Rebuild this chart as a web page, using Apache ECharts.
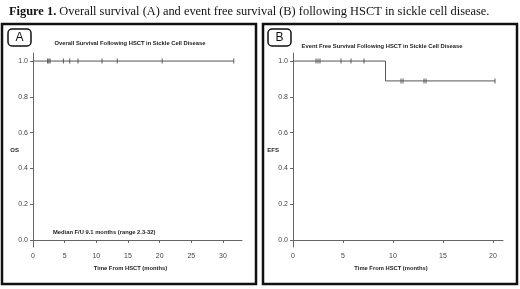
<!DOCTYPE html>
<html>
<head>
<meta charset="utf-8">
<script src="https://cdn.jsdelivr.net/npm/echarts@6/dist/echarts.min.js"></script>
<style>
  html, body { margin: 0; padding: 0; background: #fff; }
  #chart { width: 520px; height: 289px; }
</style>
</head>
<body>
<div id="chart"></div>
<script>
// overall survival: no events, flat at 1.0
const osTimes = [0, 31.7];
const osSurv = [1, 1];
const osCensorTimes = [2.3, 2.5, 2.7, 4.8, 5.8, 7.1, 10.9, 13.3, 20.4, 31.7];
const osCensorSurv = [1, 1, 1, 1, 1, 1, 1, 1, 1, 1];

// event free survival: one event around 9 months
const efsTimes = [0, 9.25, 20.2];
const efsSurv = [1, 0.889, 0.889];
const efsCensorTimes = [2.3, 2.5, 2.7, 4.8, 5.8, 7.1, 10.8, 11.0, 13.1, 13.3, 20.2];
const efsCensorSurv = [1, 1, 1, 1, 1, 1, 0.889, 0.889, 0.889, 0.889, 0.889];

const yTicks = [0, 0.2, 0.4, 0.6, 0.8, 1.0];

const axisGray = '#666';
const lineGray = '#555';
const smallFont = 'Liberation Sans, Arial, sans-serif';

const zip = (xs, ys) => xs.map((x, i) => [x, ys[i]]);

function makeX(gridIndex, max) {
  return {
    type: 'value', gridIndex: gridIndex, min: 0, max: max, interval: 5,
    name: 'Time From HSCT (months)', nameLocation: 'middle', nameGap: 17,
    nameTextStyle: { fontSize: 5.8, fontWeight: 'bold', color: '#222', fontFamily: smallFont,
      padding: [0, 14, 0, 0] },
    axisLine: { lineStyle: { color: axisGray, width: 1 } },
    axisTick: { length: 3, lineStyle: { color: axisGray } },
    axisLabel: { fontSize: 7, color: '#444', margin: 6, fontFamily: smallFont, showMaxLabel: false },
    splitLine: { show: false }
  };
}

function makeY(gridIndex, name) {
  return {
    type: 'value', gridIndex: gridIndex, min: -0.039, max: 1.045,
    name: name, nameLocation: 'middle', nameRotate: 0, nameGap: 14, nameMoveOverlap: false,
    nameTextStyle: { fontSize: 6, fontWeight: 'bold', color: '#222', fontFamily: smallFont },
    axisLine: { show: true, lineStyle: { color: axisGray, width: 1 } },
    axisTick: { show: true, length: 3, customValues: yTicks, lineStyle: { color: axisGray } },
    axisLabel: {
      fontSize: 7, color: '#444', margin: 5, fontFamily: smallFont,
      customValues: yTicks, formatter: v => v.toFixed(1)
    },
    splitLine: { show: false }
  };
}

function kmLine(xi, data) {
  return {
    type: 'line', xAxisIndex: xi, yAxisIndex: xi, step: 'end', data: data,
    symbol: 'none', lineStyle: { color: lineGray, width: 1 }, silent: true
  };
}

function censor(xi, data) {
  return {
    type: 'scatter', xAxisIndex: xi, yAxisIndex: xi, data: data,
    symbol: 'rect', symbolSize: [1, 5], itemStyle: { color: '#333' }, silent: true
  };
}

const panelTitle = { fontSize: 5.8, fontWeight: 'bold', color: '#222', fontFamily: smallFont };

const chart = echarts.init(document.getElementById('chart'));
chart.setOption({
  animation: false,
  backgroundColor: '#fff',
  title: [
    {
      text: '{b|Figure 1.} Overall survival (A) and event free survival (B) following HSCT in sickle cell disease.',
      left: 4, top: 1,
      textStyle: {
        fontFamily: 'Liberation Serif, Times New Roman, serif', fontSize: 12.4,
        fontWeight: 'normal', color: '#111',
        rich: { b: { fontFamily: 'Liberation Serif, Times New Roman, serif', fontSize: 12.4, fontWeight: 'bold', color: '#111' } }
      }
    },
    {
      text: 'Overall Survival Following HSCT in Sickle Cell Disease',
      left: 130, top: 40, textAlign: 'center', padding: 0, textStyle: panelTitle
    },
    {
      text: 'Event Free Survival Following HSCT in Sickle Cell Disease',
      left: 382, top: 43, textAlign: 'center', padding: 0, textStyle: panelTitle
    },
    {
      text: 'Median F/U 9.1 months (range 2.3-32)',
      left: 53, top: 229, padding: 0, textStyle: panelTitle
    }
  ],
  graphic: [
    { type: 'rect', shape: { x: 2, y: 24, width: 254, height: 260 },
      style: { fill: 'none', stroke: '#111', lineWidth: 2.5 } },
    { type: 'rect', shape: { x: 263, y: 24, width: 254, height: 260 },
      style: { fill: 'none', stroke: '#111', lineWidth: 2.5 } },
    { type: 'rect', shape: { x: 8, y: 29, width: 23, height: 17, r: 4 },
      style: { fill: '#fff', stroke: '#111', lineWidth: 1.5 } },
    { type: 'text', x: 19.5, y: 38, style: { text: 'A', fontSize: 12, fontFamily: smallFont,
      fill: '#111', align: 'center', verticalAlign: 'middle' } },
    { type: 'rect', shape: { x: 268, y: 29, width: 23, height: 17, r: 4 },
      style: { fill: '#fff', stroke: '#111', lineWidth: 1.5 } },
    { type: 'text', x: 279.5, y: 38, style: { text: 'B', fontSize: 12, fontFamily: smallFont,
      fill: '#111', align: 'center', verticalAlign: 'middle' } }
  ],
  grid: [
    { left: 33, top: 53, width: 209, height: 194 },
    { left: 293, top: 53, width: 210, height: 194 }
  ],
  xAxis: [makeX(0, 33), makeX(1, 21)],
  yAxis: [makeY(0, 'OS'), makeY(1, 'EFS')],
  series: [
    kmLine(0, zip(osTimes, osSurv)),
    censor(0, zip(osCensorTimes, osCensorSurv)),
    kmLine(1, zip(efsTimes, efsSurv)),
    censor(1, zip(efsCensorTimes, efsCensorSurv))
  ]
});
</script>
</body>
</html>
